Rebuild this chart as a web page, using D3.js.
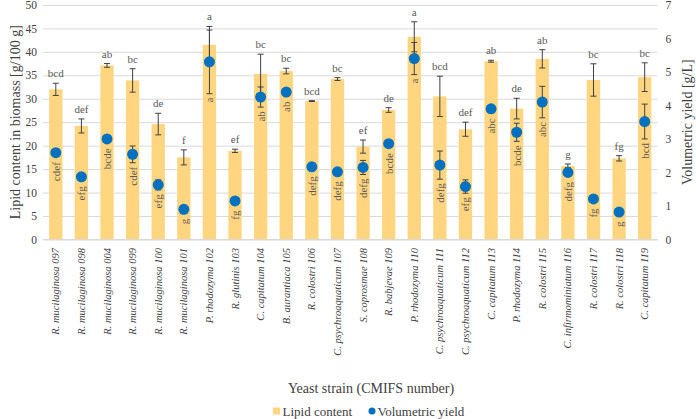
<!DOCTYPE html>
<html><head><meta charset="utf-8">
<script src="https://cdn.jsdelivr.net/npm/d3@7"></script>
<style>body{margin:0;background:#fff}svg{display:block}svg text{font-family:"Liberation Serif","Times New Roman","DejaVu Serif",serif}</style>
</head><body><svg id="c" width="696" height="419"></svg>
<script>
const strains = ["R. mucilaginosa 097","R. mucilaginosa 098","R. mucilaginosa 004","R. mucilaginosa 099","R. mucilaginosa 100","R. mucilaginosa 101","P. rhodozyma 102","R. glutinis 103","C. capitatum 104","B. aurantiaca 105","R. colostri 106","C. psychroaquaticum 107","S. coprosmae 108","R. babjevae 109","P. rhodozyma 110","C. psychroaquaticum 111","C. psychroaquaticum 112","C. capitatum 113","P. rhodozyma 114","R. colostri 115","C. infirmominiatum 116","R. colostri 117","R. colostri 118","C. capitatum 119"];
const lipid =    [32.0,24.2,37.1,33.9,24.6,17.5,41.5,18.9,35.3,35.9,29.5,34.2,19.8,27.6,43.2,30.5,23.5,38.0,27.9,38.5,15.7,34.0,17.3,34.6];
const lipidErr = [1.3,1.5,0.4,2.5,2.3,1.6,3.9,0.35,4.2,0.6,0.1,0.3,1.4,0.5,3.2,4.3,1.5,0.2,2.2,1.95,0.4,3.45,0.57,3.06];
const yieldVals = [2.59,1.87,3.0,2.54,1.63,0.9,5.3,1.15,4.25,4.4,2.17,2.02,2.15,2.86,5.4,2.22,1.58,3.9,3.2,4.1,2.0,1.21,0.82,3.52];
const yieldErr =  [0,0,0,0.25,0.15,0,0.95,0,0.3,0,0,0,0.21,0,0.48,0.42,0.2,0,0.27,0.47,0,0,0,0.52];
const lipidLetters = ["bcd","def","ab","bc","de","f","a","ef","bc","bc","bcd","bc","ef","de","a","bcd","def","ab","de","ab","g","bc","fg","bc"];
const yieldLetters = ["cdef","efg","bcde","cdef","efg","g","a","fg","ab","ab","defg","defg","defg","bcde","a","defg","efg","abc","bcde","abc","defg","fg","g","bcd"];
const leftTicks = [0,5,10,15,20,25,30,35,40,45,50];
const rightTicks = [0,1,2,3,4,5,6,7];

const FONT = "Liberation Serif, Times New Roman, DejaVu Serif, serif";
const svg = d3.select("#c");
const X0 = 43, X1 = 657.5, Y0 = 239.5, Y1 = 4.9;
const x = d3.scaleBand().domain(strains).range([X0, X1]).paddingInner(0.48).paddingOuter(0.24);
const yL = d3.scaleLinear().domain([0, 50]).range([Y0, Y1]);
const yR = d3.scaleLinear().domain([0, 7]).range([Y0, Y1]);
const cx = s => x(s) + x.bandwidth() / 2;

// gridlines + left axis
const gl = svg.append("g").attr("transform", `translate(${X0},0)`)
  .call(d3.axisLeft(yL).tickValues(leftTicks).tickFormat(d3.format("d")).tickSize(-(X1 - X0)).tickPadding(6));
gl.attr("font-family", FONT);
gl.select(".domain").remove();
gl.selectAll(".tick line").attr("stroke", "#D9D9D9").attr("stroke-width", 1);
gl.selectAll(".tick text").attr("font-size", 11.5).attr("fill", "#404040");

const gr = svg.append("g").attr("transform", `translate(${X1},0)`)
  .call(d3.axisRight(yR).tickValues(rightTicks).tickFormat(d3.format("d")).tickSize(0).tickPadding(8));
gr.attr("font-family", FONT);
gr.select(".domain").remove();
gr.selectAll(".tick text").attr("font-size", 11.5).attr("fill", "#404040");

// bars
svg.append("g").selectAll("rect").data(strains).join("rect")
  .attr("x", d => x(d)).attr("width", x.bandwidth())
  .attr("y", (d, i) => yL(lipid[i])).attr("height", (d, i) => Y0 - yL(lipid[i]))
  .attr("fill", "#FFD57F");

// bottom axis line
svg.append("line").attr("x1", X0).attr("x2", X1).attr("y1", Y0).attr("y2", Y0).attr("stroke", "#D9D9D9");

function errBar(g, xc, yTop, yBot) {
  g.append("line").attr("x1", xc).attr("x2", xc).attr("y1", yTop).attr("y2", yBot);
  g.append("line").attr("x1", xc - 3).attr("x2", xc + 3).attr("y1", yTop).attr("y2", yTop);
  g.append("line").attr("x1", xc - 3).attr("x2", xc + 3).attr("y1", yBot).attr("y2", yBot);
}
const eg = svg.append("g").attr("stroke", "#404040").attr("stroke-width", 1);
strains.forEach((s, i) => {
  errBar(eg, cx(s), yL(lipid[i] + lipidErr[i]), yL(lipid[i] - lipidErr[i]));
  if (yieldErr[i] > 0) errBar(eg, cx(s), yR(yieldVals[i] + yieldErr[i]), yR(yieldVals[i] - yieldErr[i]));
});

// dots
const R = 5.5;
svg.append("g").selectAll("circle").data(strains).join("circle")
  .attr("cx", d => cx(d)).attr("cy", (d, i) => yR(yieldVals[i])).attr("r", R)
  .attr("fill", "#0070C0");

// top letters
svg.append("g").selectAll("text").data(strains).join("text")
  .attr("x", d => cx(d))
  .attr("y", (d, i) => Math.min(yL(lipid[i] + lipidErr[i]), yR(yieldVals[i] + yieldErr[i])) - 6)
  .attr("text-anchor", "middle").attr("font-size", 11).attr("fill", "#595959")
  .text((d, i) => lipidLetters[i]);

// inner letters
svg.append("g").selectAll("text").data(strains).join("text")
  .attr("transform", (d, i) => {
    const yt = Math.max(yR(yieldVals[i]) + R, yR(yieldVals[i] - yieldErr[i])) + 4;
    return `translate(${cx(d)},${yt}) rotate(-90)`;
  })
  .attr("text-anchor", "end").attr("dominant-baseline", "central")
  .attr("font-size", 11).attr("fill", "#595959")
  .text((d, i) => yieldLetters[i]);

// x labels
svg.append("g").selectAll("text").data(strains).join("text")
  .attr("transform", d => `translate(${cx(d)},248) rotate(-90)`)
  .attr("text-anchor", "end").attr("dominant-baseline", "central")
  .attr("font-size", 10.5).attr("font-style", "italic").attr("fill", "#404040")
  .text(d => d);

// axis titles
svg.append("text").attr("transform", `translate(15,${(Y0 + Y1) / 2}) rotate(-90)`)
  .attr("text-anchor", "middle").attr("dominant-baseline", "central")
  .attr("font-size", 14).attr("fill", "#404040")
  .text("Lipid content in biomass [g/100 g]");
svg.append("text").attr("transform", `translate(687,${(Y0 + Y1) / 2}) rotate(-90)`)
  .attr("text-anchor", "middle").attr("dominant-baseline", "central")
  .attr("font-size", 14).attr("fill", "#404040")
  .text("Volumetric yield [g/L]");
svg.append("text").attr("x", 371).attr("y", 388)
  .attr("text-anchor", "middle").attr("dominant-baseline", "central")
  .attr("font-size", 14).attr("fill", "#404040")
  .text("Yeast strain (CMIFS number)");

// legend
const lg = svg.append("g").attr("font-size", 13).attr("fill", "#404040");
lg.append("rect").attr("x", 273).attr("y", 407.5).attr("width", 7).attr("height", 7).attr("fill", "#FFD57F");
lg.append("text").attr("x", 282.5).attr("y", 411).attr("dominant-baseline", "central").text("Lipid content");
lg.append("circle").attr("cx", 372).attr("cy", 411).attr("r", 3.5).attr("fill", "#0070C0");
lg.append("text").attr("x", 377.5).attr("y", 411).attr("dominant-baseline", "central").text("Volumetric yield");
</script>
</body></html>
